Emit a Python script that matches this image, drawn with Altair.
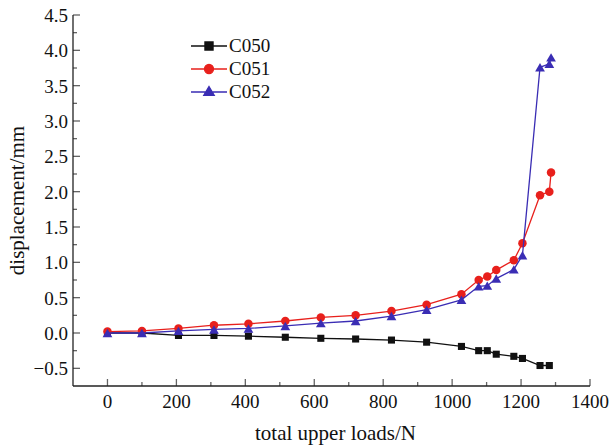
import altair as alt
import pandas as pd

# Applied load steps (N)
loads = [0, 100, 206, 309, 409, 516, 619, 720, 824, 926,
         1027, 1077, 1102, 1128, 1179, 1204, 1255, 1282]
loads_ext = loads + [1287]

# Measured displacement (mm) per specimen
c050 = [0.00, 0.00, -0.035, -0.035, -0.045, -0.06, -0.075, -0.085, -0.10, -0.13,
        -0.19, -0.25, -0.25, -0.30, -0.33, -0.36, -0.46, -0.46]
c051 = [0.02, 0.03, 0.065, 0.11, 0.13, 0.17, 0.22, 0.25, 0.31, 0.40,
        0.55, 0.75, 0.80, 0.89, 1.03, 1.27, 1.95, 2.00, 2.27]
c052 = [0.00, 0.00, 0.03, 0.05, 0.065, 0.10, 0.14, 0.17, 0.24, 0.33,
        0.47, 0.66, 0.67, 0.77, 0.90, 1.10, 3.76, 3.81, 3.90]

series_names = ["C050", "C051", "C052"]
series_colors = ["#111111", "#e8201c", "#3a2db4"]
series_shapes = ["square", "circle", "triangle-up"]

# Axis ticks
x_major = [0, 200, 400, 600, 800, 1000, 1200, 1400]
x_minor = [100, 300, 500, 700, 900, 1100, 1300]
y_major = [-0.5, 0.0, 0.5, 1.0, 1.5, 2.0, 2.5, 3.0, 3.5, 4.0, 4.5]
y_minor = [-0.25, 0.25, 0.75, 1.25, 1.75, 2.25, 2.75, 3.25, 3.75, 4.25]

X_TITLE = "total upper loads/N"
Y_TITLE = "displacement/mm"

X_DOMAIN = [-100, 1400]
Y_DOMAIN = [-0.75, 4.5]
W, H = 517, 371
FONT = "Liberation Serif"
INK = "#222222"
TEXT = "#111111"

frames = []
for name, xs_, ys_ in [("C050", loads, c050), ("C051", loads_ext, c051), ("C052", loads_ext, c052)]:
    frames.append(pd.DataFrame({"load": xs_, "disp": ys_, "series": name}))
df = pd.concat(frames, ignore_index=True)

xs = alt.Scale(domain=X_DOMAIN, nice=False, zero=False)
ys = alt.Scale(domain=Y_DOMAIN, nice=False, zero=False)
x_plain = alt.X("load:Q", scale=xs, axis=None)
y_plain = alt.Y("disp:Q", scale=ys, axis=None)
x_left = alt.X(datum=X_DOMAIN[0], scale=xs, axis=None)
y_bottom = alt.Y(datum=Y_DOMAIN[0], scale=ys, axis=None)

one = pd.DataFrame({"k": [0]})

# Series: line with markers
layers = []
for name, color, shape in zip(series_names, series_colors, series_shapes):
    src = alt.Chart(df).transform_filter(alt.datum.series == name).encode(x=x_plain, y=y_plain)
    size = {"square": 50, "circle": 72, "triangle-up": 95}[shape]
    layers.append(src.mark_line(color=color, strokeWidth=1.3))
    layers.append(src.mark_point(shape=shape, filled=True, color=color, size=size, opacity=1))

# Legend symbols: a short line with the series marker on it
legend_paths = [
    "M-2,0H2M-0.45,-0.45H0.45V0.45H-0.45Z",
    "M-2,0H2M0.5,0A0.5,0.5 0 1,1 -0.5,0A0.5,0.5 0 1,1 0.5,0Z",
    "M-2,0H2M0,-0.6L0.58,0.38H-0.58Z",
]
leg = alt.Legend(title=None, orient="none", legendX=126, legendY=21,
                 symbolSize=324, symbolStrokeWidth=1.3, symbolOpacity=1,
                 labelFont=FONT, labelFontSize=19, labelColor=TEXT,
                 labelOffset=10, rowPadding=3, padding=0)
legend_layer = alt.Chart(df).mark_point(filled=True, opacity=0).encode(
    x=x_plain,
    y=y_plain,
    fill=alt.Fill("series:N", scale=alt.Scale(domain=series_names, range=series_colors), legend=leg),
    stroke=alt.Stroke("series:N", scale=alt.Scale(domain=series_names, range=series_colors), legend=leg),
    shape=alt.Shape("series:N", scale=alt.Scale(domain=series_names, range=legend_paths), legend=leg),
)

# Axis lines along the left and bottom edges
x_line = alt.Chart(one).mark_rule(color=INK, strokeWidth=1.3).encode(
    x=x_left, x2=alt.X2(datum=X_DOMAIN[1]), y=y_bottom)
y_line = alt.Chart(one).mark_rule(color=INK, strokeWidth=1.3).encode(
    x=x_left, y=y_bottom, y2=alt.Y2(datum=Y_DOMAIN[1]))


# Inward-pointing major and minor ticks
def x_tick_layer(values, length):
    return alt.Chart(pd.DataFrame({"v": values})).mark_tick(
        color=INK, thickness=1.3, size=length, orient="vertical").encode(
        x=alt.X("v:Q", scale=xs, axis=None), y=alt.value(H - length / 2))


def y_tick_layer(values, length):
    return alt.Chart(pd.DataFrame({"v": values})).mark_tick(
        color=INK, thickness=1.3, size=length, orient="horizontal").encode(
        y=alt.Y("v:Q", scale=ys, axis=None), x=alt.value(length / 2))


ticks = [x_tick_layer(x_major, 7), x_tick_layer(x_minor, 4),
         y_tick_layer(y_major, 7), y_tick_layer(y_minor, 4)]

# Tick labels
x_labels = alt.Chart(pd.DataFrame({"load": x_major})).mark_text(
    font=FONT, fontSize=19, color=TEXT, baseline="alphabetic", align="center", dy=22).encode(
    x=x_plain, y=y_bottom, text=alt.Text("load:Q", format="d"))
y_labels = alt.Chart(pd.DataFrame({"disp": y_major})).mark_text(
    font=FONT, fontSize=19, color=TEXT, baseline="middle", align="right", dx=-5, dy=1).encode(
    x=x_left, y=y_plain, text=alt.Text("disp:Q", format=".1f"))

# Axis titles
x_title = alt.Chart(one).mark_text(
    font=FONT, fontSize=21, color=TEXT, baseline="alphabetic", align="center").encode(
    x=alt.value(W / 2 + 4), y=alt.value(H + 54), text=alt.value(X_TITLE))
y_title = alt.Chart(one).mark_text(
    font=FONT, fontSize=21, color=TEXT, baseline="middle", align="center", angle=270).encode(
    x=alt.value(-55), y=alt.value(H / 2), text=alt.value(Y_TITLE))

chart = alt.layer(
    *layers, legend_layer, *ticks, x_line, y_line,
    x_labels, y_labels, x_title, y_title
).properties(
    width=W, height=H,
    autosize=alt.AutoSizeParams(type="none"),
    padding={"left": 73, "top": 15, "right": 23, "bottom": 61},
).configure_view(stroke=None).configure_legend(
    labelFont=FONT, labelFontSize=19, labelColor=TEXT)

chart.save("out.html", embed_options={"renderer": "svg", "actions": False})
